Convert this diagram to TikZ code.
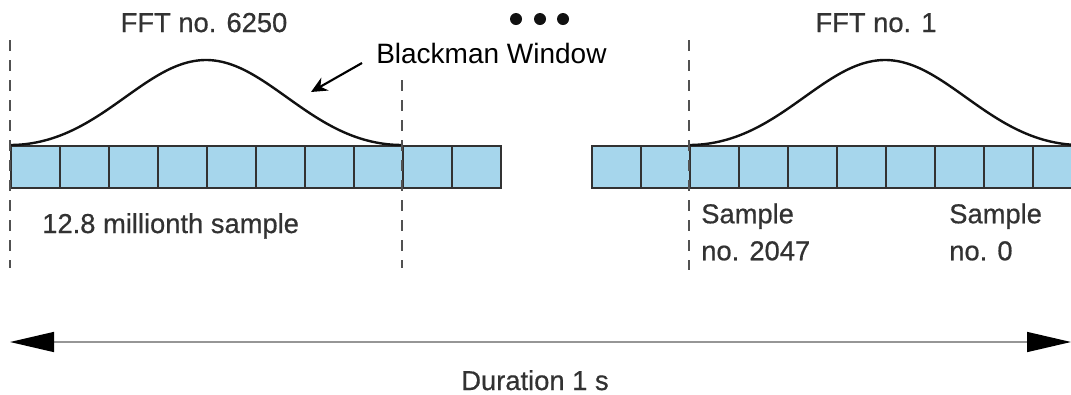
\documentclass[tikz,border=0pt]{standalone}
\usepackage{fontspec}
\setmainfont{Liberation Sans}
\newfontfamily\labelfont[FakeBold=0.6]{Liberation Sans}
\usetikzlibrary{arrows.meta,positioning,calc}
\definecolor{inkBlack}{RGB}{17, 17, 17}
\definecolor{inkGray}{RGB}{50, 50, 50}
\definecolor{inkRule}{RGB}{150, 150, 150}
\definecolor{cellBlue}{RGB}{166, 214, 236}

\begin{document}
\begin{tikzpicture}[x=0.75pt, y=-0.75pt,
        cell/.style={draw=inkGray, fill=cellBlue, line width=1.4pt, minimum width=36.75pt,
            minimum height=31.5pt, inner sep=0pt, anchor=north west},
        guide/.style={draw=inkGray!85, line width=1.5pt, dash pattern=on 8pt off 7pt},
        window/.style={draw=inkBlack, line width=1.8pt},
        label/.style={text=inkGray, font=\labelfont\fontsize{20.5pt}{27.75pt}\selectfont, inner sep=0pt}]
    \useasboundingbox (0,0) rectangle (1071,394);

    % sample strips
    \foreach \i in {0,...,9}
        \node[cell] (left\i) at ({10+49*\i},145) {};
    \foreach \i in {0,...,9}
        \node[cell] (right\i) at ({591+49*\i},145) {};

    % window shapes
    \draw[window] plot[domain=0:1, samples=80, smooth]
        ({10+392*\x}, {145-85*(0.46-0.5*cos(360*\x)+0.04*cos(720*\x))});
    \draw[window] plot[domain=0:1, samples=80, smooth]
        ({689+392*\x}, {145-85*(0.46-0.5*cos(360*\x)+0.04*cos(720*\x))});

    % frame limits
    \draw[guide] (10,40) -- (10,268);
    \draw[guide] (402,80) -- (402,268);
    \draw[guide] (689,40) -- (689,270);

    \foreach \d in {516,540,563}
        \fill[inkBlack] (\d,19) circle (4.5pt);

    \node[label, anchor=base] (fftLast) at (204,32) {FFT no. 6250};
    \node[label, anchor=base] (fftFirst) at (876,32) {FFT no. 1};
    \node[label, anchor=base west] (millionth) at (42,233) {12.8 millionth sample};
    \node[label, anchor=west, align=left] (sampleLast) at (701,232) {Sample\\no. 2047};
    \node[label, anchor=west, align=left] (sampleFirst) at (949,232) {Sample\\no. 0};
    \node[label, anchor=base] (duration) at (535,390) {Duration 1 s};
    \node[text=black, font=\fontsize{21pt}{25pt}\selectfont, inner sep=0pt, anchor=base west]
        (blackman) at (376,63) {Blackman Window};

    \coordinate (windowTip) at (311,92);
    \draw[-{Stealth[length=12pt, width=11pt]}, line width=1.6pt, draw=black]
        ([xshift=-10.5pt]blackman.base west) -- (windowTip);

    \coordinate (durStart) at (10,342);
    \coordinate (durEnd) at (1071,342);
    \draw[{Triangle[length=33pt, width=15pt, color=black]}-{Triangle[length=33pt, width=15pt, color=black]},
        draw=inkRule, line width=1.1pt] (durStart) -- (durEnd);
\end{tikzpicture}
\end{document}
